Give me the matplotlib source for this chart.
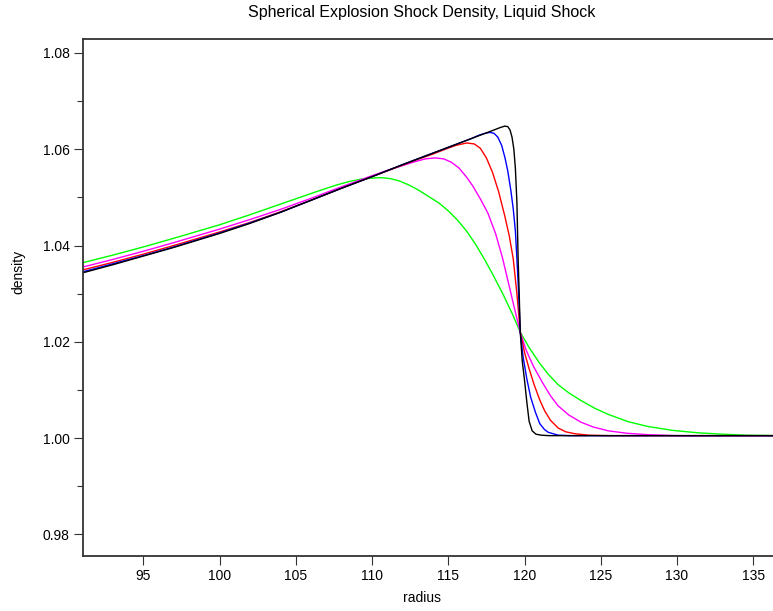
import matplotlib
matplotlib.use("Agg")
import matplotlib.pyplot as plt
from matplotlib.ticker import MultipleLocator

plt.rcParams['font.family'] = ['Liberation Sans', 'DejaVu Sans']

# values: radius, density
r_green = [91.0, 93.0, 95.0, 97.0, 100.0, 102.0, 104.0, 106.0, 107.5, 108.5, 109.3,
           110.0, 110.6, 111.2, 111.8, 112.4, 113.0, 113.7, 114.4, 115.0, 115.6,
           116.2, 116.8, 117.4, 118.0, 118.6, 119.2, 119.72, 120.3, 121.0, 121.6,
           122.2, 122.9, 123.7, 124.6, 125.5, 126.8, 128.1, 129.7, 131.35, 133.0,
           134.6, 136.9]
d_green = [1.0364, 1.0380, 1.0397, 1.0415, 1.0443, 1.0464, 1.0486, 1.0508, 1.0524, 1.0533, 1.0538,
           1.0540, 1.0541, 1.0539, 1.0534, 1.0526, 1.0516, 1.0502, 1.0488, 1.0472, 1.0453,
           1.0430, 1.0402, 1.0370, 1.0335, 1.0298, 1.0258, 1.0220, 1.0188, 1.0155, 1.0131,
           1.0111, 1.0094, 1.0078, 1.0062, 1.0049, 1.0034, 1.0024, 1.0016, 1.0011, 1.0008,
           1.0006, 1.0005]

r_magenta = [91.0, 93.0, 95.0, 97.0, 100.0, 102.0, 104.0, 106.0, 108.0, 110.0, 111.0,
             112.0, 112.8, 113.5, 114.15, 114.7, 115.2, 115.7, 116.2, 116.6, 117.1,
             117.6, 118.1, 118.55, 119.0, 119.35, 119.72, 120.1, 120.6, 121.2, 121.7,
             122.2, 122.9, 123.7, 124.5, 125.5, 126.7, 128.1, 130.0, 136.9]
d_magenta = [1.0355, 1.0371, 1.0388, 1.0406, 1.0434, 1.0454, 1.0475, 1.0498, 1.0522, 1.0545, 1.0556,
             1.0566, 1.0574, 1.0580, 1.0582, 1.0580, 1.0573, 1.0561, 1.0542, 1.0524, 1.0497,
             1.0467, 1.0425, 1.0375, 1.0315, 1.0268, 1.0220, 1.0183, 1.0148, 1.0114, 1.0088,
             1.0067, 1.0048, 1.0033, 1.0023, 1.0015, 1.0010, 1.0007, 1.0005, 1.0005]

r_red = [91.0, 93.0, 95.0, 97.0, 100.0, 102.0, 104.0, 106.0, 108.0, 110.0, 112.0,
         113.0, 114.0, 114.8, 115.5, 116.2, 116.7, 117.1, 117.5, 117.9, 118.3,
         118.7, 119.0, 119.26, 119.5, 119.72, 120.0, 120.3, 120.64, 121.0, 121.33,
         121.7, 122.2, 122.7, 123.3, 124.2, 125.5, 136.9]
d_red = [1.0349, 1.0365, 1.0382, 1.0400, 1.0428, 1.0448, 1.0470, 1.0494, 1.0519, 1.0543, 1.0567,
         1.0579, 1.0590, 1.0600, 1.0608, 1.0613, 1.0611, 1.0602, 1.0582, 1.0552, 1.0512,
         1.0462, 1.0420, 1.0372, 1.0300, 1.0220, 1.0178, 1.0144, 1.0110, 1.0079, 1.0056,
         1.0037, 1.0021, 1.0013, 1.0009, 1.0006, 1.0005, 1.0005]

r_blue = [91.0, 93.0, 95.0, 97.0, 100.0, 102.0, 104.0, 106.0, 108.0, 110.0, 112.0,
          114.0, 116.0, 116.5, 117.0, 117.4, 117.74, 118.0, 118.25, 118.5, 118.72,
          118.9, 119.1, 119.26, 119.4, 119.5, 119.6, 119.72, 119.9, 120.15, 120.4,
          120.72, 121.0, 121.3, 121.55, 122.2, 123.0, 136.9]
d_blue = [1.0345, 1.0362, 1.0379, 1.0397, 1.0426, 1.0447, 1.0469, 1.0494, 1.0519, 1.0543, 1.0568,
          1.0592, 1.0616, 1.0622, 1.0629, 1.0633, 1.0635, 1.0633, 1.0625, 1.0608, 1.0582,
          1.0555, 1.0515, 1.0476, 1.0430, 1.0372, 1.0310, 1.0220, 1.0170, 1.0123, 1.0085,
          1.0053, 1.0030, 1.0018, 1.0012, 1.0006, 1.0005, 1.0005]

r_black = [91.0, 93.0, 95.0, 97.0, 100.0, 102.0, 104.0, 106.0, 108.0, 110.0, 112.0,
           114.0, 116.0, 117.0, 118.0, 118.4, 118.7, 118.9, 119.05, 119.18, 119.3,
           119.4, 119.5, 119.58, 119.65, 119.72, 119.85, 120.0, 120.15, 120.3, 120.5,
           120.75, 121.1, 121.6, 136.9]
d_black = [1.0343, 1.0360, 1.0378, 1.0396, 1.0425, 1.0446, 1.0469, 1.0494, 1.0519, 1.0543, 1.0568,
           1.0592, 1.0616, 1.0628, 1.0640, 1.0645, 1.0648, 1.0647, 1.0640, 1.0625, 1.0600,
           1.0560, 1.0490, 1.0372, 1.0300, 1.0220, 1.0160, 1.0120, 1.0075, 1.0035, 1.0015,
           1.0008, 1.0006, 1.0005, 1.0005]

series = [
    (r_green, d_green, '#00ff00'),
    (r_magenta, d_magenta, '#ff00ff'),
    (r_red, d_red, '#ff0000'),
    (r_blue, d_blue, '#0000ff'),
    (r_black, d_black, '#000000'),
]

fig = plt.figure(figsize=(7.73, 6.11), dpi=100)
ax = fig.add_axes([0.107, 0.090, 0.905, 0.8454])

for r, d, c in series:
    ax.plot(r, d, color=c, linewidth=1.0)

ax.set_xlim(91.03, 136.9)
ax.set_ylim(0.9755, 1.0828)

ax.xaxis.set_major_locator(MultipleLocator(5))
ax.yaxis.set_major_locator(MultipleLocator(0.02))
ax.yaxis.set_minor_locator(MultipleLocator(0.01))
ax.yaxis.set_major_formatter(plt.FormatStrFormatter('%.2f'))

ax.spines['right'].set_visible(False)
for s in ['left', 'bottom', 'top']:
    ax.spines[s].set_linewidth(1.3)
    ax.spines[s].set_color('#333333')

ax.tick_params(axis='both', which='major', direction='out', length=6.5, width=0.8,
               color='#333333', labelsize=10, pad=3)
ax.tick_params(axis='y', which='minor', direction='out', length=4.5, width=0.8, color='#333333')

fig.text(422 / 773, 1 - 12 / 611, 'Spherical Explosion Shock Density, Liquid Shock',
         ha='center', va='center', fontsize=11.5)
fig.text(422 / 773, 1 - 598 / 611, 'radius', ha='center', va='center', fontsize=10)
fig.text(18 / 773, 1 - 272 / 611, 'density', ha='center', va='center', fontsize=10,
         rotation=90)

fig.savefig('out.png', dpi=100)
